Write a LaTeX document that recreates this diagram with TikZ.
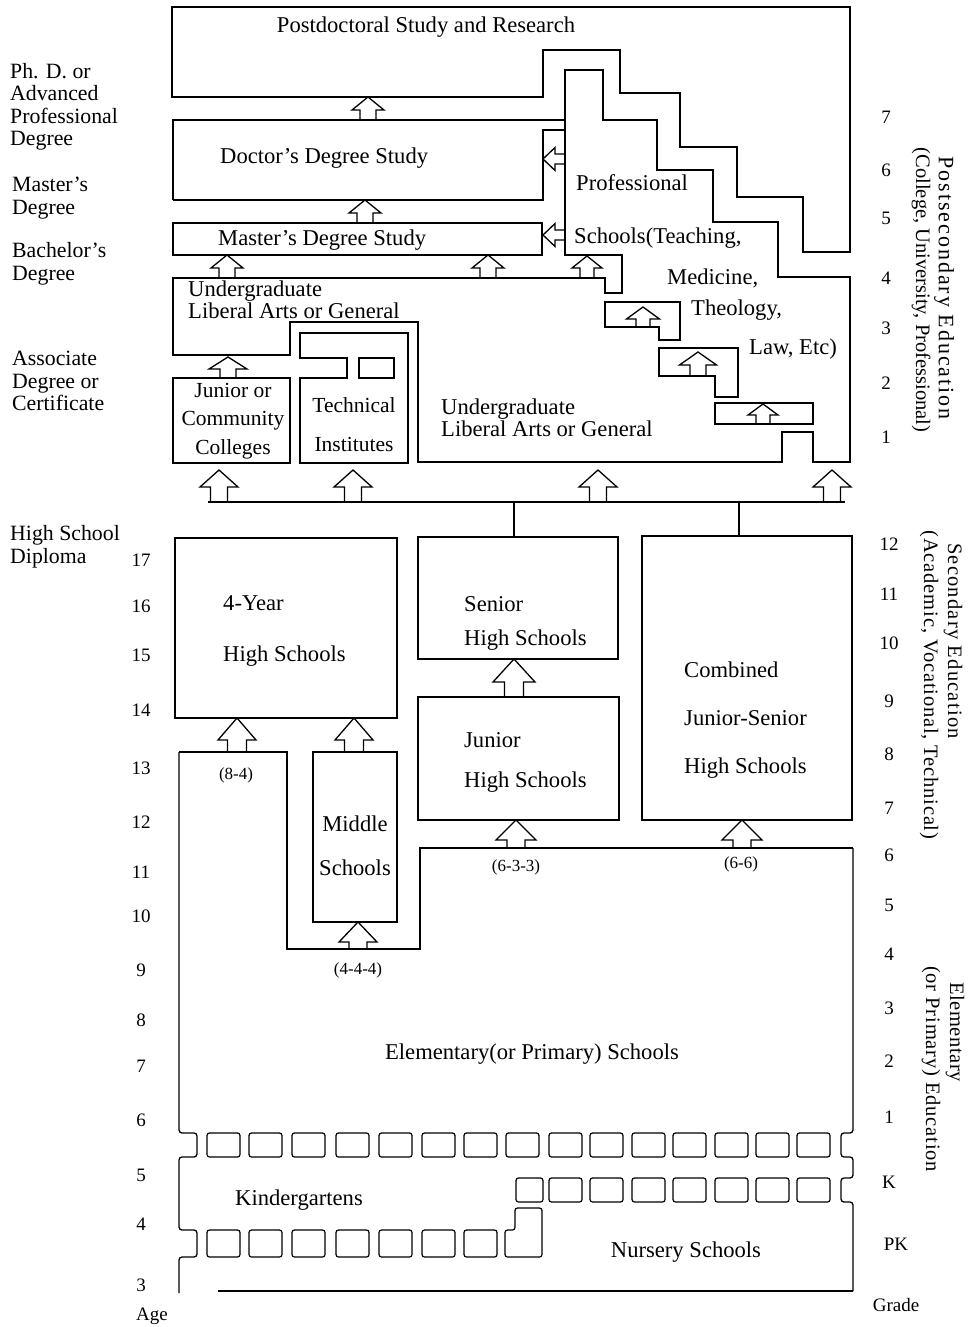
\documentclass[tikz,border=0pt]{standalone}
\usepackage{fontspec}
\setmainfont{Liberation Serif}
\newcommand\uarr[6]{% x, tip y, base y, head width, head height, stem width
  \draw[ln] ({#1-#6/2},#3) -- ({#1-#6/2},{#2+#5}) -- ({#1-#4/2},{#2+#5}) -- (#1,#2) -- ({#1+#4/2},{#2+#5}) -- ({#1+#6/2},{#2+#5}) -- ({#1+#6/2},#3);}
\newcommand\larr[6]{% tip x, y, base x, head length, head width, stem width
  \draw[ln] (#3,{#2-#6/2}) -- ({#1+#4},{#2-#6/2}) -- ({#1+#4},{#2-#5/2}) -- (#1,#2) -- ({#1+#4},{#2+#5/2}) -- ({#1+#4},{#2+#6/2}) -- (#3,{#2+#6/2});}
\begin{document}
\begin{tikzpicture}[x=1pt,y=-1pt,
  ln/.style={line width=1.3pt, line join=miter},
  sq/.style={line width=1.2pt, rounded corners=2.5pt},
  bx/.style={font=\fontsize{22.6}{22}\selectfont, inner sep=0pt},
  side/.style={font=\fontsize{21.8}{22.5}\selectfont, inner sep=0pt, align=left, anchor=west},
  num/.style={font=\fontsize{19}{19}\selectfont, inner sep=0pt},
  small/.style={font=\fontsize{17}{17}\selectfont, inner sep=0pt},
  rot/.style={font=\fontsize{20.5}{20}\selectfont, inner sep=0pt, rotate=-90}]
\useasboundingbox (0,0) rectangle (970,1327);

% ---------- postsecondary ----------
\draw[ln] (172,97) -- (172,7) -- (850,7) -- (850,252) -- (803,252) -- (803,197) -- (737,197) -- (737,147) -- (680,147) -- (680,93) -- (620,93) -- (620,50) -- (543,50) -- (543,97) -- cycle;
\draw[ln] (173,200) -- (173,120) -- (565,120) -- (565,70) -- (603,70) -- (603,120) -- (657,120) -- (657,170) -- (713,170) -- (713,222) -- (778,222) -- (778,277) -- (850,277) -- (850,462) -- (813,462) -- (813,432) -- (782,432) -- (782,462) -- (418,462) -- (418,322) -- (290,322) -- (290,355) -- (173,355) -- (173,278) -- (605,278) -- (605,293) -- (622,293) -- (622,255) -- (565,255) -- (565,120);
\draw[ln] (173,200) -- (543,200) -- (543,130) -- (565,130);
\draw[ln] (173,223) rectangle (542,255);
\draw[ln] (605,302) -- (680,302) -- (680,340) -- (659,340) -- (659,327) -- (605,327) -- cycle;
\draw[ln] (659,348) -- (738,348) -- (738,397) -- (715,397) -- (715,376) -- (659,376) -- cycle;
\draw[ln] (715,403) rectangle (813,424);
\draw[ln] (173,378) rectangle (290,463);
\draw[ln] (300,333) -- (408,333) -- (408,463) -- (300,463) -- (300,378) -- (347,378) -- (347,358) -- (300,358) -- cycle;
\draw[ln] (359,358) rectangle (394,378);

\uarr{368}{97}{120}{32}{13}{16}
\uarr{365}{200}{223}{32}{13}{16}
\uarr{227}{255}{278}{32}{13}{16}
\uarr{488}{255}{278}{32}{13}{16}
\uarr{587}{256}{278}{30}{12}{14}
\larr{543}{159}{565}{12}{23}{10}
\larr{543}{235}{565}{12}{23}{10}
\uarr{228}{357}{378}{38}{12}{16}
\uarr{643}{307}{327}{33}{12}{14}
\uarr{698}{352}{376}{37}{13}{16}
\uarr{763}{404}{424}{30}{11}{14}

\node[bx] (tpost) at (426,27) {Postdoctoral Study and Research};
\node[bx,anchor=west] (tdoc) at (220,158) {Doctor's Degree Study};
\node[bx,anchor=west] (tmas) at (218,240) {Master's Degree Study};
\node[bx,anchor=west,align=left,font=\fontsize{22.6}{19}\selectfont] (tug1) at (188,300) {Undergraduate\\Liberal Arts or General};
\node[bx,anchor=west] (tp1) at (576,183) {Professional};
\node[bx,anchor=west] (tp2) at (574,238) {Schools(Teaching,};
\node[bx,anchor=west] (tp3) at (667,278) {Medicine,};
\node[bx,anchor=west] (tp4) at (691,310) {Theology,};
\node[bx,anchor=west] (tp5) at (749,349) {Law, Etc)};
\node[bx,align=center,font=\fontsize{21.5}{28.5}\selectfont] (tjc) at (233,421) {Junior or\\Community\\Colleges};
\node[bx,align=center,font=\fontsize{21.5}{39}\selectfont] (ttech) at (354,425) {Technical\\Institutes};
\node[bx,anchor=west,align=left,font=\fontsize{22.6}{19}\selectfont] (tug2) at (441,418) {Undergraduate\\Liberal Arts or General};

% ---------- secondary ----------
\draw[ln] (208,502) -- (845,502);
\uarr{219}{470}{502}{38}{17}{17}
\uarr{353}{470}{502}{38}{17}{17}
\uarr{598}{470}{502}{38}{17}{17}
\uarr{832}{470}{502}{38}{17}{17}
\draw[ln] (514,502) -- (514,537);
\draw[ln] (739,502) -- (739,536);

\draw[ln] (175,538) rectangle (397,718);
\draw[ln] (418,537) rectangle (618,659);
\draw[ln] (418,697) rectangle (619,820);
\draw[ln] (642,536) rectangle (852,820);
\draw[ln] (313,752) rectangle (397,922);
\uarr{237}{718}{751}{38}{22}{19}
\uarr{354}{718}{751}{38}{22}{19}
\uarr{514}{659}{697}{42}{23}{19}
\uarr{516}{820}{848}{40}{20}{18}
\uarr{742}{820}{848}{40}{20}{18}
\uarr{358}{922}{949}{38}{20}{18}

\node[bx,anchor=west,align=left,font=\fontsize{22.6}{51}\selectfont] (t4y) at (223,631) {4-Year\\High Schools};
\node[bx,anchor=west,align=left,font=\fontsize{22.6}{34}\selectfont] (tshs) at (464,623) {Senior\\High Schools};
\node[bx,anchor=west,align=left,font=\fontsize{22.6}{40}\selectfont] (tjhs) at (464,762) {Junior\\High Schools};
\node[bx,anchor=west,align=left,font=\fontsize{22.6}{48}\selectfont] (tcomb) at (684,720) {Combined\\Junior-Senior\\High Schools};
\node[bx,align=center,font=\fontsize{22.6}{44}\selectfont] (tmid) at (355,846) {Middle\\Schools};

% ---------- elementary ----------
\draw[ln] (179,752) -- (287,752) -- (287,949) -- (420,949) -- (420,848) -- (853,848);
\draw[ln,rounded corners=3pt] (179,752) -- (179,1133) -- (197,1133) -- (197,1157) -- (179,1157) -- (179,1230) -- (197,1230) -- (197,1257) -- (179,1257) -- (179,1293);
\draw[ln,rounded corners=3pt] (853,848) -- (853,1133) -- (841,1133) -- (841,1157) -- (853,1157) -- (853,1178) -- (841,1178) -- (841,1202) -- (853,1202) -- (853,1291);
\draw[ln] (853,1291) -- (218,1291);

\foreach \x in {207,249,292,336,379,422,464,506,549,590,632,673,715,756,797}
  \draw[sq] (\x,1133) rectangle ++(33,24);
\draw[sq] (516,1178) rectangle (543,1202);
\foreach \x in {549,590,632,673,715,756,797}
  \draw[sq] (\x,1178) rectangle ++(33,24);
\foreach \x in {207,249,292,336,379,422,464}
  \draw[sq] (\x,1230) rectangle ++(33,27);
\draw[sq] (505,1230) -- (515,1230) -- (515,1208) -- (542,1208) -- (542,1257) -- (505,1257) -- cycle;

\node[small] (l84) at (236,775) {(8-4)};
\node[small] (l444) at (358,970) {(4-4-4)};
\node[small] (l633) at (516,867) {(6-3-3)};
\node[small] (l66) at (741,864) {(6-6)};
\node[bx] (telem) at (532,1054) {Elementary(or Primary) Schools};
\node[bx] (tkg) at (299,1200) {Kindergartens};
\node[bx] (tns) at (686,1252) {Nursery Schools};

% ---------- left labels ----------
\node[side] (lphd) at (10,107) {Ph. D. or\\Advanced\\Professional\\Degree};
\node[side] (lmas) at (12,198) {Master's\\Degree};
\node[side] (lbac) at (12,264) {Bachelor's\\Degree};
\node[side] (lass) at (12,381) {Associate\\Degree or\\Certificate};
\node[side] (lhsd) at (10,547) {High School\\Diploma};

\foreach \a/\y in {17/560,16/606,15/655,14/710,13/768,12/822,11/872,10/916,9/970,8/1020,7/1066,6/1120,5/1175,4/1224,3/1285}
  \node[num] (age\a) at (141,\y) {\a};
\node[num] (agelab) at (152,1316) {Age};

% ---------- right labels ----------
\foreach \g/\y [count=\i] in {7/117,6/170,5/218,4/278,3/328,2/383,1/437}
  \node[num] (gp\i) at (886,\y) {\g};
\foreach \g/\y [count=\i] in {12/544,11/594,10/643,9/701,8/754,7/808}
  \node[num] (gs\i) at (889,\y) {\g};
\foreach \g/\y [count=\i] in {6/855,5/905,4/954,3/1008,2/1061,1/1117,K/1182}
  \node[num] (ge\i) at (889,\y) {\g};
\node[num] (gpk) at (896,1244) {PK};
\node[num] (gradelab) at (896,1305) {Grade};

\node[rot,font=\fontsize{22}{22}\selectfont] (rps1) at (944,288) {\addfontfeatures{LetterSpace=9}Postsecondary Education};
\node[rot] (rps2) at (921,290) {(College, University, Professional)};
\node[rot] (rse1) at (953,641) {\addfontfeatures{LetterSpace=6}Secondary Education};
\node[rot] (rse2) at (929,685) {\addfontfeatures{LetterSpace=4}(Academic, Vocational, Technical)};
\node[rot] (rel1) at (955,1032) {\addfontfeatures{LetterSpace=3}Elementary};
\node[rot] (rel2) at (931,1069) {\addfontfeatures{LetterSpace=4}(or Primary) Education};
\end{tikzpicture}
\end{document}
